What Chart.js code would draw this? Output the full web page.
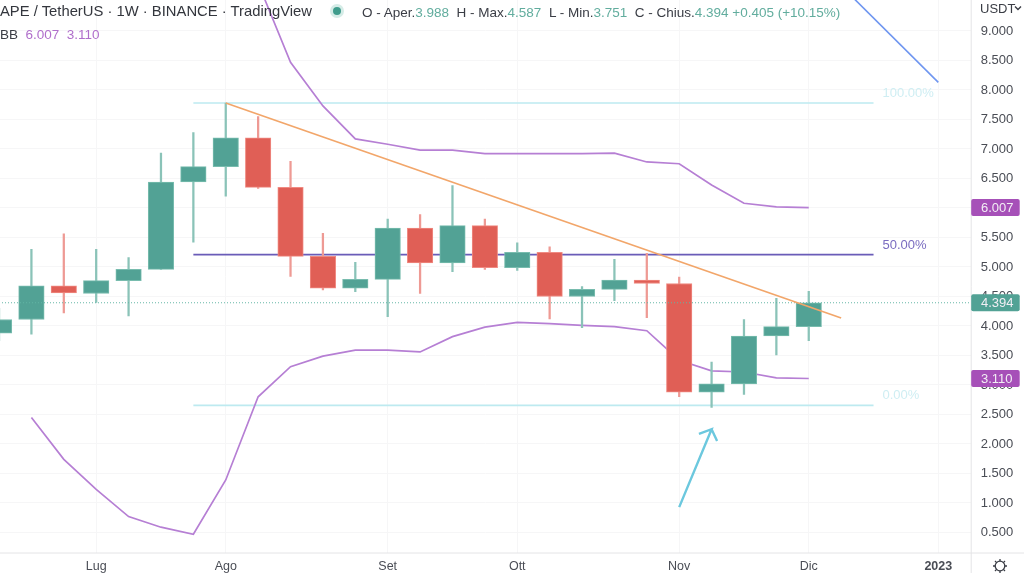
<!DOCTYPE html>
<html lang="en">
<head>
  <meta charset="UTF-8" />
  <title>APE / TetherUS</title>
  <script src="https://cdn.jsdelivr.net/npm/chart.js"></script>
  <style>
    html, body { margin: 0; padding: 0; background: #fff; overflow: hidden; }
    body { width: 1024px; height: 573px; position: relative; font-family: 'Liberation Sans', sans-serif; }
    #chart { position: absolute; left: 0; top: 0; }
    .txt { position: absolute; white-space: nowrap; line-height: 1; }
    .green { color: #62ad9e; }
  </style>
</head>
<body>
  <canvas id="chart" width="1024" height="573"></canvas>
  <div class="txt" style="left:0;top:4px;font-size:14.8px;color:#33363d">APE / TetherUS · 1W · BINANCE · TradingView</div>
  <div class="txt" style="left:333px;top:7px;width:8px;height:8px;border-radius:50%;background:#3f9c8c;box-shadow:0 0 0 3px #d5ece7"></div>
  <div class="txt" style="left:362px;top:6px;font-size:13.5px;color:#3a3d45">
    O - Aper.<span class="green">3.988</span>&nbsp; H - Max.<span class="green">4.587</span>&nbsp; L - Min.<span class="green">3.751</span>&nbsp; C - Chius.<span class="green">4.394</span>&nbsp;<span class="green">+0.405 (+10.15%)</span>
  </div>
  <div class="txt" style="left:0;top:28px;font-size:13.5px;color:#3a3d45">BB &nbsp;<span style="color:#b06fcb">6.007 &nbsp;3.110</span></div>
  <div class="txt" style="left:980px;top:2px;font-size:13px;color:#3a3d45">USDT</div>
  <svg class="txt" style="left:1014px;top:5px" width="8" height="6"><path d="M1 1.5 L4 4.5 L7 1.5" fill="none" stroke="#3a3d45" stroke-width="1.4"/></svg>
  <svg class="txt" style="left:992px;top:558px" width="16" height="16" viewBox="0 0 16 16"><circle cx="8" cy="8" r="4.8" fill="none" stroke="#3a3d45" stroke-width="1.3"/><path d="M8 1V3.2M8 12.8V15M1 8H3.2M12.8 8H15M3 3L4.6 4.6M11.4 11.4L13 13M3 13L4.6 11.4M11.4 4.6L13 3" stroke="#3a3d45" stroke-width="1.3"/></svg>

  <script>
    // weekly candles, week 0 = first week of Lug
    const weeks = [-3,-2,-1,0,1,2,3,4,5,6,7,8,9,10,11,12,13,14,15,16,17,18,19,20,21,22];
    const opens  = [3.88,4.11,4.68,4.55,4.77,4.96,6.44,6.70,7.19,6.35,5.18,4.64,4.79,5.66,5.07,5.70,4.99,5.25,4.50,4.62,4.78,4.72,2.88,3.02,3.83,3.988];
    const closes = [4.11,4.68,4.56,4.77,4.96,6.44,6.70,7.19,6.35,5.18,4.64,4.79,5.66,5.07,5.70,4.99,5.25,4.50,4.62,4.78,4.72,2.88,3.02,3.83,3.988,4.394];
    const highs  = [4.30,5.30,5.56,5.30,5.16,6.93,7.28,7.78,7.55,6.79,5.57,5.08,5.81,5.89,6.38,5.81,5.41,5.34,4.67,5.13,5.23,4.83,3.39,4.11,4.47,4.587];
    const lows   = [3.75,3.86,4.22,4.40,4.17,4.96,5.42,6.20,6.33,4.84,4.61,4.58,4.16,4.55,4.92,4.96,4.94,4.12,3.97,4.43,4.14,2.80,2.62,2.84,3.51,3.751];

    // Bollinger bands
    const bbUpperWeeks = [5,6,7,8,9,10,11,12,13,14,15,16,17,18,19,20,21,22];
    const bbUpper = [9.81,8.47,7.73,7.17,7.08,6.98,6.98,6.92,6.92,6.92,6.92,6.93,6.78,6.75,6.39,6.08,6.02,6.007];
    const bbLowerWeeks = [-2,-1,0,1,2,3,4,5,6,7,8,9,10,11,12,13,14,15,16,17,18,19,20,21,22];
    const bbLower = [2.45,1.74,1.23,0.77,0.59,0.47,1.39,2.80,3.31,3.49,3.59,3.59,3.56,3.82,3.98,4.06,4.04,4.01,3.99,3.92,3.42,3.24,3.22,3.12,3.110];

    // hand drawn objects, [week, price]
    const trendLine = [[4,7.78],[23,4.135]];
    const blueLine = [[22,10.31],[26,8.13]];
    const fibStart = 3, fibEnd = 24;
    const fibLevels = [7.78,5.21,2.655];
    const fibLabels = ['100.00%','50.00%','0.00%'];
    const arrowPath = [[18,0.93],[19,2.25],[18.61,2.17],[19,2.25],[19.17,2.05]];
    const lastPrice = 4.394;

    const priceTicks = [0.5,1,1.5,2,2.5,3,3.5,4,4.5,5,5.5,6,6.5,7,7.5,8,8.5,9];
    const monthWeeks = [0,4,9,13,18,22,26];
    const monthLabels = ['Lug','Ago','Set','Ott','Nov','Dic','2023'];

    const GREEN = '#52a295', RED = '#e05f56';
    const GREEN_SOFT = '#8ac3b8', RED_SOFT = '#ee9a94';
    const GRID = '#f6f6f7';

    function toPts(pairs) { return pairs.map(p => ({x: p[0], y: p[1]})); }
    function zip(xs, ys) { return xs.map((x, i) => ({x: x, y: ys[i]})); }
    const isUp = i => closes[i] >= opens[i];

    function lineSet(data, color, width, extra) {
      return Object.assign({
        type: 'line', data: data, borderColor: color, borderWidth: width,
        pointRadius: 0, tension: 0, fill: false, order: 3
      }, extra || {});
    }

    // no extra room around the plot for the tick labels
    function noPadding(s) {
      s.paddingTop = 0; s.paddingBottom = 0; s.paddingLeft = 0; s.paddingRight = 0;
    }

    // labels and badges that sit on top of the axes
    const overlay = {
      id: 'overlay',
      afterDraw(chart) {
        const c = chart.ctx, x = chart.scales.x, y = chart.scales.y, area = chart.chartArea;
        c.save();
        c.strokeStyle = '#e4e4e6';
        c.lineWidth = 1;
        c.beginPath();
        c.moveTo(0, area.bottom + 0.5); c.lineTo(1024, area.bottom + 0.5);
        c.moveTo(area.right + 0.5, 0); c.lineTo(area.right + 0.5, 573);
        c.stroke();

        c.font = "13px 'Liberation Sans'";
        c.textBaseline = 'middle';
        const fibColors = ['#cfeef3','#7a6cc0','#cfeef3'];
        fibLevels.forEach((lv, i) => {
          c.fillStyle = fibColors[i];
          c.fillText(fibLabels[i], x.getPixelForValue(fibEnd) + 9, y.getPixelForValue(lv) - 9.5);
        });

        const badges = [[bbUpper[bbUpper.length - 1], '#a650b8'], [lastPrice, '#52a295'], [bbLower[bbLower.length - 1], '#a650b8']];
        badges.forEach(b => {
          const py = y.getPixelForValue(b[0]);
          c.fillStyle = b[1];
          c.beginPath();
          c.roundRect(area.right + 0.5, py - 8.5, 48.5, 17, 2);
          c.fill();
          c.fillStyle = '#f2eef4';
          c.fillText(b[0].toFixed(3), 981, py + 0.5);
        });
        c.restore();
      }
    };

    new Chart(document.getElementById('chart'), {
      type: 'bar',
      data: {
        datasets: [
          // bodies
          {
            data: weeks.map((w, i) => ({x: w, y: [opens[i], closes[i]]})),
            backgroundColor: weeks.map((w, i) => isUp(i) ? GREEN : RED),
            borderColor: weeks.map((w, i) => isUp(i) ? '#78bcae' : '#f08a82'),
            borderWidth: 1, borderSkipped: false, barThickness: 25.5, grouped: false, order: 1
          },
          // wicks
          {
            data: weeks.map((w, i) => ({x: w, y: [lows[i], highs[i]]})),
            backgroundColor: weeks.map((w, i) => isUp(i) ? GREEN_SOFT : RED_SOFT),
            barThickness: 1.6, grouped: false, order: 2
          },
          lineSet(zip(bbUpperWeeks, bbUpper), '#b67fd4', 1.7),
          lineSet(zip(bbLowerWeeks, bbLower), '#b67fd4', 1.7),
          lineSet(toPts(trendLine), '#f2a66a', 1.7, {order: 0}),
          lineSet(toPts(blueLine), '#6f96f0', 1.6),
          lineSet(toPts([[fibStart, fibLevels[0]], [fibEnd, fibLevels[0]]]), '#bdeaf0', 1.6, {order: 4}),
          lineSet(toPts([[fibStart, fibLevels[1]], [fibEnd, fibLevels[1]]]), '#6a5cb8', 1.6, {order: 4}),
          lineSet(toPts([[fibStart, fibLevels[2]], [fibEnd, fibLevels[2]]]), '#bdeaf0', 1.6, {order: 4}),
          lineSet(toPts(arrowPath), '#6cc8de', 2.4),
          lineSet(toPts([[-3, lastPrice], [27, lastPrice]]), '#62b5a5', 1.2, {borderDash: [1, 2], order: 0})
        ]
      },
      options: {
        responsive: false,
        animation: false,
        layout: {padding: 0},
        plugins: {legend: {display: false}, tooltip: {enabled: false}},
        scales: {
          x: {
            type: 'linear', min: -2.97, max: 27, offset: false,
            afterBuildTicks: s => { s.ticks = monthWeeks.map(v => ({value: v})); },
            afterFit: s => { s.height = 20.5; noPadding(s); },
            grid: {color: GRID, drawTicks: false, offset: false},
            border: {display: false},
            ticks: {
              autoSkip: false, maxRotation: 0, padding: 7, color: '#4a4d55',
              font: ctx => ({family: "'Liberation Sans'", size: 12.5, weight: ctx.tick && ctx.tick.value === 26 ? 'bold' : 'normal'}),
              callback: v => monthLabels[monthWeeks.indexOf(v)]
            }
          },
          y: {
            position: 'right', min: 0.161, max: 9.525,
            afterBuildTicks: s => { s.ticks = priceTicks.map(v => ({value: v})); },
            afterFit: s => { s.width = 53.3; noPadding(s); },
            grid: {color: GRID, drawTicks: false},
            border: {display: false},
            ticks: {
              padding: 10, color: '#4a4d55',
              font: {family: "'Liberation Sans'", size: 13},
              callback: v => v.toFixed(3)
            }
          }
        }
      },
      plugins: [overlay]
    });
  </script>
</body>
</html>
